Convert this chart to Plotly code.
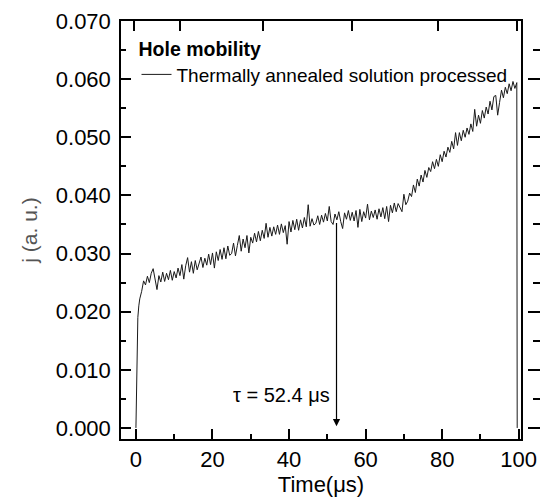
import plotly.graph_objects as go

# Time (µs)
t_start = [0.0, 0.25, 0.5, 0.75, 1.0, 1.5]
j_start = [0.0, 0.011, 0.019, 0.0210, 0.0222, 0.0235]

t_main = [2.0 + 0.5 * i for i in range(196)]
j_main = [
    0.0253, 0.0246, 0.0261, 0.0250, 0.0266, 0.0274, 0.0255, 0.0238, 0.0262, 0.0251,
    0.0268, 0.0252, 0.0266, 0.0255, 0.0271, 0.0254, 0.0269, 0.0258, 0.0275, 0.0262,
    0.0281, 0.0256, 0.0279, 0.0293, 0.0268, 0.0286, 0.0266, 0.0288, 0.0272, 0.0284,
    0.0294, 0.0276, 0.0292, 0.0280, 0.0299, 0.0281, 0.0301, 0.0275, 0.0303, 0.0288,
    0.0307, 0.0290, 0.0310, 0.0291, 0.0313, 0.0297, 0.0300, 0.0318, 0.0296, 0.0314,
    0.0331, 0.0304, 0.0325, 0.0310, 0.0331, 0.0301, 0.0328, 0.0318, 0.0335, 0.0320,
    0.0338, 0.0322, 0.0340, 0.0326, 0.0352, 0.0328, 0.0345, 0.0330, 0.0346, 0.0333,
    0.0349, 0.0333, 0.0351, 0.0336, 0.0348, 0.0316, 0.0355, 0.0337, 0.0357, 0.0341,
    0.0359, 0.0340, 0.0358, 0.0344, 0.0362, 0.0346, 0.0384, 0.0347, 0.0360, 0.0349,
    0.0352, 0.0365, 0.0350, 0.0366, 0.0354, 0.0369, 0.0356, 0.0381, 0.0355, 0.0350,
    0.0368, 0.0358, 0.0372, 0.0355, 0.0343, 0.0370, 0.0359, 0.0374, 0.0357, 0.0371,
    0.0356, 0.0374, 0.0345, 0.0376, 0.0355, 0.0372, 0.0361, 0.0385, 0.0358, 0.0373,
    0.0362, 0.0375, 0.0359, 0.0377, 0.0363, 0.0379, 0.0360, 0.0381, 0.0355, 0.0383,
    0.0370, 0.0387, 0.0372, 0.0386, 0.0378, 0.0372, 0.0402, 0.0384, 0.0390, 0.0404,
    0.0398, 0.0418, 0.0405, 0.0428, 0.0416, 0.0435, 0.0423, 0.0443, 0.0431, 0.0448,
    0.0441, 0.0458, 0.0446, 0.0462, 0.0450, 0.0470, 0.0458, 0.0476, 0.0466, 0.0483,
    0.0474, 0.0493, 0.0480, 0.0508, 0.0486, 0.0508, 0.0494, 0.0512, 0.0500, 0.0516,
    0.0505, 0.0523, 0.0510, 0.0548, 0.0519, 0.0538, 0.0524, 0.0546, 0.0533, 0.0552,
    0.0540, 0.0562, 0.0547, 0.0570, 0.0572, 0.0538, 0.0560, 0.0581, 0.0568, 0.0586,
    0.0575, 0.0592, 0.0580, 0.0596, 0.0584, 0.0594,
]
t_end = [99.6]
j_end = [0.0]

time_us = t_start + t_main + t_end
current = j_start + j_main + j_end

x_ticks = [0, 20, 40, 60, 80, 100]
x_minor = [10, 30, 50, 70, 90]
y_ticks = [0.000, 0.010, 0.020, 0.030, 0.040, 0.050, 0.060, 0.070]
y_minor = [0.005, 0.015, 0.025, 0.035, 0.045, 0.055, 0.065]
top_ticks = [-0.4, 11.6, 33.2, 56.5, 78.9, 99.5]
tau = 52.4

x_range = [-3.9, 100.6]
y_range = [-0.0019, 0.0700]

FONT = "Liberation Sans, Arial, Helvetica, sans-serif"

fig = go.Figure()
fig.add_trace(go.Scatter(
    x=time_us, y=current, mode="lines",
    line=dict(color="#1a1a1a", width=1),
    name="Thermally annealed solution processed",
))
# invisible helper trace so the extra tick axes are rendered
fig.add_trace(go.Scatter(
    x=time_us, y=current, mode="lines", xaxis="x2", yaxis="y2",
    line=dict(width=0, color="rgba(0,0,0,0)"), showlegend=False, hoverinfo="skip",
))

fig.update_layout(
    width=542, height=502,
    margin=dict(l=121, r=2, t=21, b=63, autoexpand=False),
    paper_bgcolor="white", plot_bgcolor="white",
    font=dict(family=FONT, size=20, color="black"),
    showlegend=True,
    legend=dict(
        x=0.037, y=0.978, xanchor="left", yanchor="top",
        bgcolor="rgba(0,0,0,0)",
        title=dict(text="<b>Hole mobility</b>", font=dict(size=19.5, family=FONT), side="top"),
        font=dict(size=19, family=FONT),
        itemwidth=30, tracegroupgap=0,
    ),
    xaxis=dict(
        domain=[0, 0.9547], range=x_range, automargin=False,
        tickmode="array", tickvals=x_ticks, ticktext=[str(v) for v in x_ticks],
        ticks="inside", ticklen=10, tickwidth=1.5, tickcolor="black",
        minor=dict(ticks="inside", ticklen=5, tickwidth=1.5, tickcolor="black",
                   tickvals=x_minor),
        showline=True, linecolor="black", linewidth=1.5, mirror=True,
        showgrid=False, zeroline=False,
        tickfont=dict(size=22),
        title=dict(text="Time(μs)", font=dict(size=22), standoff=4),
    ),
    xaxis2=dict(
        overlaying="x", side="top", anchor="y", range=x_range, automargin=False,
        tickmode="array", tickvals=top_ticks,
        ticks="inside", ticklen=10, tickwidth=1.5, tickcolor="black",
        showticklabels=False, showline=False, showgrid=False, zeroline=False,
    ),
    yaxis=dict(
        range=y_range, automargin=False,
        tickmode="array", tickvals=y_ticks, ticktext=[f"{v:.3f}" for v in y_ticks],
        ticks="inside", ticklen=10, tickwidth=1.5, tickcolor="black",
        minor=dict(ticks="inside", ticklen=5, tickwidth=1.5, tickcolor="black",
                   tickvals=y_minor),
        showline=True, linecolor="black", linewidth=1.5, mirror=True,
        showgrid=False, zeroline=False,
        tickfont=dict(size=22),
        ticklabelstandoff=4,
        title=dict(text="j (a. u.)", font=dict(size=21, color="#555555"), standoff=12),
    ),
    yaxis2=dict(
        overlaying="y", anchor="free", position=1, side="right", range=y_range,
        automargin=False,
        tickmode="array", tickvals=y_ticks,
        ticks="inside", ticklen=12, tickwidth=1.5, tickcolor="black",
        minor=dict(ticks="inside", ticklen=7, tickwidth=1.5, tickcolor="black",
                   tickvals=y_minor),
        showticklabels=False, showline=False, showgrid=False, zeroline=False,
    ),
)

fig.add_annotation(
    x=tau, y=0.0003, ax=tau, ay=0.0355, xref="x", yref="y", axref="x", ayref="y",
    text="", showarrow=True, arrowhead=2, arrowsize=1.2, arrowwidth=1.2, arrowcolor="black",
)
fig.add_annotation(
    x=tau - 1.2, y=0.0057, xref="x", yref="y", xanchor="right", yanchor="middle",
    text="τ = 52.4 μs", showarrow=False, font=dict(size=20, color="black"),
)

fig.write_html(
    "out.html",
    config={"displayModeBar": False},
    post_script="document.body.style.margin='0';document.body.style.overflow='hidden';",
)
